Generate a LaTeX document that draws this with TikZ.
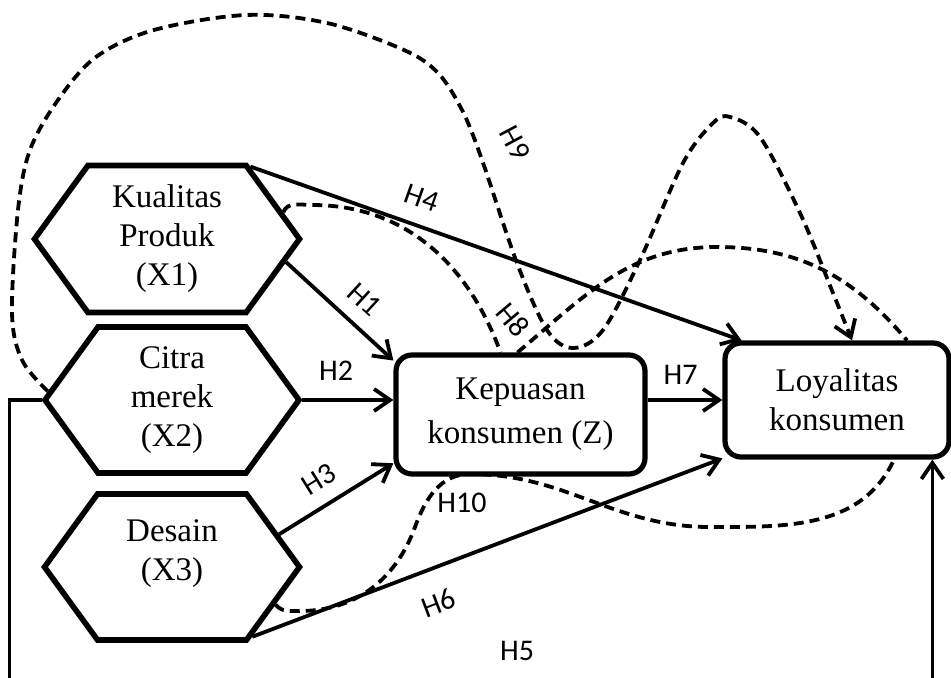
\documentclass[tikz,border=0pt]{standalone}
\usepackage{fontspec}
\setmainfont{Liberation Serif}
\newfontfamily\hfont{Carlito}
\usetikzlibrary{shapes.symbols,arrows.meta,calc}

\tikzset{
	hexa/.style={signal, signal to=east and west, signal pointer angle=108, draw, line width=2.8pt, align=center, inner sep=1pt, font=\fontsize{16.5}{19.5}\selectfont},
	box/.style={rectangle, rounded corners=8pt, draw, line width=2.6pt, align=center, font=\fontsize{16.5}{22}\selectfont},
	arr/.style={line width=1.9pt, -{Straight Barb[length=8pt,width=11pt]}},
	dsh/.style={line width=1.9pt, dash pattern=on 5pt off 3pt},
	lbl/.style={font=\hfont\fontsize{15}{17}\selectfont, inner sep=1pt},
}

\begin{document}
\begin{tikzpicture}[x=0.5pt, y=0.5pt]
	\useasboundingbox (0,0) rectangle (951,677);
	\clip (0,0) rectangle (951,677);
	% variabel
	\node [hexa, minimum width=132.5pt, minimum height=73.5pt] (X1) at (167,438) {Kualitas\\Produk\\(X1)};
	\node [hexa, minimum width=127pt, minimum height=73pt] (X2) at (172,277) {Citra\\merek\\(X2)};
	\node [hexa, minimum width=127.5pt, minimum height=73pt, text depth=17pt] (X3) at (172,110) {Desain\\(X3)};
	\node [box, minimum width=124.5pt, minimum height=59.5pt] (Z) at (520.5,262.5) {Kepuasan\\konsumen (Z)};
	\node [box, minimum width=112pt, minimum height=57pt, font=\fontsize{16.5}{19.5}\selectfont] (L) at (837,277) {Loyalitas\\konsumen};
	% pengaruh langsung
	\draw [arr] (X1.-11.5) -- node [lbl, sloped, above=6pt, pos=.57] (h1) {H1} (Z.157);
	\draw [arr] (X2.east) -- node [lbl, above=8pt, pos=.37] (h2) {H2} (X2.east -| Z.west);
	\draw [arr] (X3.17) -- node [lbl, sloped, above=6pt, pos=.47] (h3) {H3} (Z.201);
	\draw [arr] (X1.41) -- node [lbl, sloped, above=7pt, pos=.33] (h4) {H4} (L.148.7);
	\draw [arr] (X3.-41.6) -- node [lbl, sloped, below=10pt, pos=.37] (h6) {H6} (L.207.5);
	\draw [arr] (Z.east |- L.west) -- node [lbl, above=6pt, pos=.44] (h7) {H7} (L.west);
	\draw [arr] (X2.west) -- ++(-32,0) -- ++(0,-300) -| node [lbl, above=17.5pt, pos=.275] (h5) {H5} (L.-32.5);
	% pengaruh tidak langsung
	\draw [dsh] (X1.13) to[out=70,in=180] (312,472) to[out=0,in=110] ($(Z.north)+(-20,0)$);
	\draw [dsh] ($(Z.north)+(-3,0)$) to[out=40,in=180] (717,430) to[out=0,in=130] ($(L.north)+(70,0)$);
	\draw [dsh, -{Straight Barb[length=8pt,width=11pt]}] plot [smooth, tension=.55] coordinates {(X2.176) (22,317) (12,364) (18,467) (30,527) (58,577) (96,620) (154,647) (246,662) (327,654) (404,627) (438,604) (462,567) (481,520) (517,414) (547,347) (573,329) (603,347) (640,417) (683,514) (713,554) (730,560) (760,540) (800,464) (833,384) ($(L.north)+(15,0)$)};
	\draw [dsh] (X3.-20) to[out=-50,in=180] (300,66) to[out=0,in=-110] (415,150) to[out=70,in=180] (470,203) to[out=0,in=180] (710,150) to[out=0,in=-115] ($(L.south)+(57,0)$);
	\node [lbl, rotate=-50] (h8) at (513,357) {H8};
	\node [lbl, rotate=-62] (h9) at (515,534) {H9};
	\node [lbl] (h10) at (462,174) {H10};
\end{tikzpicture}
\end{document}
